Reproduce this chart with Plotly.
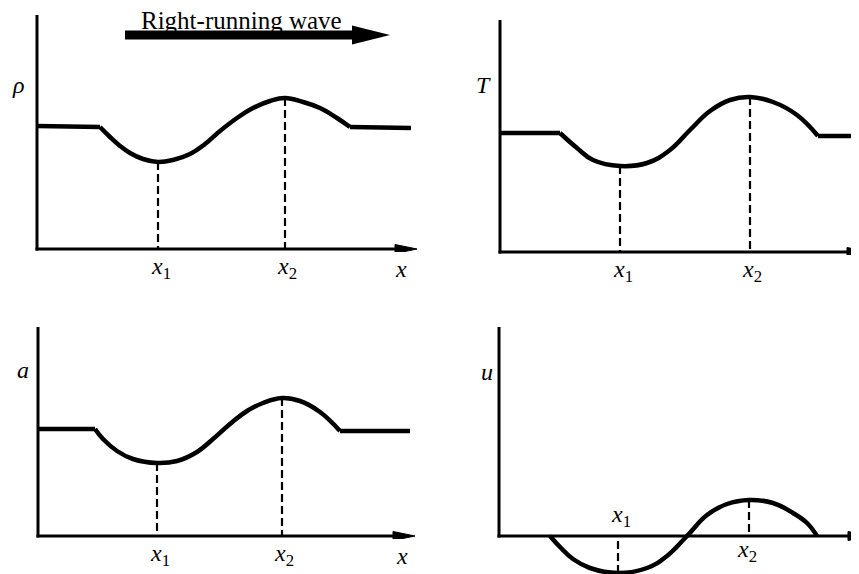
import plotly.graph_objects as go

# ---------------- data (arbitrary units) ----------------
TITLE = "Right-running wave"
AXIS_NAMES = ["ρ", "T", "a", "u"]
TICK_LABELS = ["<i>x</i><sub>1</sub>", "<i>x</i><sub>2</sub>", "<i>x</i>"]

X_RHO = [0, 63, 73, 83, 93, 106, 121, 136, 153, 168, 183, 200, 216, 233, 248, 266, 283, 300, 313, 374]
RHO = [123, 122, 112, 103, 96, 90, 87, 89, 95, 105, 118, 131, 141, 148, 151, 147, 141, 131, 122, 121]

X_T = [0, 60, 77, 93, 120, 147, 170, 190, 210, 230, 250, 273, 297, 318, 365]
T_VAL = [119, 119, 104, 92, 86, 89, 102, 122, 141, 152, 155, 150, 137, 116, 116]

X_A = [0, 57, 65, 79, 95, 119, 139, 159, 175, 192, 209, 225, 244, 262, 282, 302, 372]
A_VAL = [107, 107, 97, 85, 77, 73, 75, 84, 97, 112, 125, 133, 138, 135, 124, 105, 105]

X_U = [51, 61, 74, 91, 119, 148, 168, 188, 208, 228, 250, 274, 294, 308, 318]
U_VAL = [0, -11, -23, -32, -37, -32, -20, 0, 21, 32, 36, 33, 23, 13, 0]

# ---------------- geometry ----------------
OFF = 8                      # page margin of the html body
W, H = 859 - OFF, 574 - OFF  # figure size
# page-pixel origin of each panel, axis ranges, y-axis top, x-axis arrow (head start, tip)
PANELS = [
    dict(ox=37, oy=249, xr=(-3, 383), yr=(-3, 236), top=234, head=(358, 380)),
    dict(ox=500, oy=252, xr=(-3, 359), yr=(-3, 234), top=232, head=(347, 369)),
    dict(ox=38, oy=536, xr=(-3, 380), yr=(-3, 211), top=209, head=(355, 377)),
    dict(ox=499, oy=536, xr=(-3, 360), yr=(-38, 211), top=209, head=(349, 371)),
]
# label offsets (data units relative to each panel's origin)
NAME_POS = [(-19, 164), (-17, 167), (-15, 166), (-12, 164)]

CURVES = [(X_RHO, RHO), (X_T, T_VAL), (X_A, A_VAL), (X_U, U_VAL)]

FONT = "Liberation Serif"
LW_CURVE = 4.5
LW_AXIS = 3


def to_paper(p, x, y):
    px = p["ox"] + x - OFF
    py = p["oy"] - y - OFF
    return px / W, (H - py) / H


fig = go.Figure()
layout = dict(
    width=W, height=H, margin=dict(l=0, r=0, t=0, b=0, pad=0),
    paper_bgcolor="white", plot_bgcolor="white", showlegend=False,
)
shapes = []
annotations = []


def label(p, x, y, text, size=24):
    ax, ay = to_paper(p, x, y)
    annotations.append(dict(xref="paper", yref="paper", x=ax, y=ay, text=text,
                            showarrow=False, xanchor="center", yanchor="middle",
                            font=dict(family=FONT, size=size, color="black")))


spline = dict(color="black", width=LW_CURVE, shape="spline", smoothing=1.2)

for i, (p, (xs, ys)) in enumerate(zip(PANELS, CURVES)):
    n = "" if i == 0 else str(i + 1)
    xa, ya = "x" + n, "y" + n
    xd = [max(0.0, (p["ox"] - OFF + p["xr"][0]) / W), min(1.0, (p["ox"] - OFF + p["xr"][1]) / W)]
    yd = [max(0.0, (H - (p["oy"] - OFF - p["yr"][0])) / H),
          min(1.0, (H - (p["oy"] - OFF - p["yr"][1])) / H)]
    layout["xaxis" + n] = dict(domain=xd, range=list(p["xr"]), visible=False,
                                fixedrange=True, anchor=ya)
    layout["yaxis" + n] = dict(domain=yd, range=list(p["yr"]), visible=False,
                                fixedrange=True, anchor=xa)

    # curve
    if i < 3:
        line = dict(color="black", width=LW_CURVE)
        fig.add_trace(go.Scatter(x=xs[:2], y=ys[:2], mode="lines", line=line,
                                 xaxis=xa, yaxis=ya, hoverinfo="skip"))
        fig.add_trace(go.Scatter(x=xs[1:-1], y=ys[1:-1], mode="lines", line=spline,
                                 xaxis=xa, yaxis=ya, hoverinfo="skip"))
        fig.add_trace(go.Scatter(x=xs[-2:], y=ys[-2:], mode="lines", line=line,
                                 xaxis=xa, yaxis=ya, hoverinfo="skip"))
    else:
        fig.add_trace(go.Scatter(x=xs, y=ys, mode="lines", line=spline,
                                 xaxis=xa, yaxis=ya, hoverinfo="skip"))

    # dashed verticals at x1 (minimum) and x2 (maximum)
    k1 = ys.index(min(ys))
    k2 = ys.index(max(ys))
    for k in (k1, k2):
        fig.add_trace(go.Scatter(x=[xs[k], xs[k]], y=[ys[k], 0], mode="lines",
                                 line=dict(color="black", width=2.2, dash="8px,4px"),
                                 xaxis=xa, yaxis=ya, hoverinfo="skip"))

    # axes
    shapes.append(dict(type="line", xref=xa, yref=ya, x0=0, y0=-1.5, x1=0, y1=p["top"],
                       line=dict(color="black", width=LW_AXIS)))
    shapes.append(dict(type="line", xref=xa, yref=ya, x0=-1.5, y0=0, x1=p["head"][0] + 2, y1=0,
                       line=dict(color="black", width=LW_AXIS)))
    h0, h1 = p["head"]
    shapes.append(dict(type="path", xref=xa, yref=ya,
                       path=f"M {h0},{-4.5} L {h1},0 L {h0},{4.5} Z",
                       fillcolor="black", line=dict(color="black", width=1)))

    # labels
    label(p, NAME_POS[i][0], NAME_POS[i][1], "<i>" + AXIS_NAMES[i] + "</i>")
    if i < 3:
        label(p, xs[k1] + 3, -19, TICK_LABELS[0])
        label(p, xs[k2] + 2, -19, TICK_LABELS[1])
        label(p, 364, -20, TICK_LABELS[2])
    else:
        label(p, xs[k1] + 3, 20, TICK_LABELS[0])
        label(p, xs[k2] - 2, -15, TICK_LABELS[1])
        label(p, 364, -17, TICK_LABELS[2])

# big arrow above the first panel
shapes.append(dict(type="path", xref="x", yref="y",
                   path="M 88,209.5 L 315,209.5 L 315,204.5 L 353,214 L 315,223.5 L 315,218.5 L 88,218.5 Z",
                   fillcolor="black", line=dict(color="black", width=0)))
label(PANELS[0], 204, 229, TITLE, size=25)

layout["shapes"] = shapes
layout["annotations"] = annotations
fig.update_layout(**layout)
fig.write_html("out.html")
